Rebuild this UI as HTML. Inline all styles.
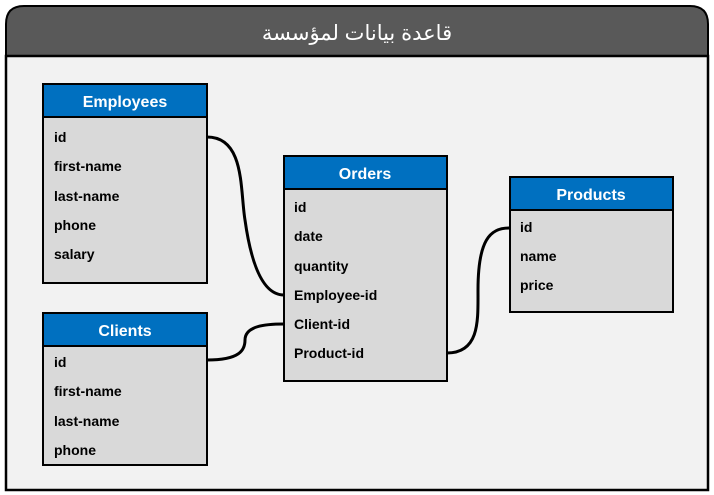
<!DOCTYPE html>
<html><head><meta charset="utf-8"><style>html,body{margin:0;padding:0;background:#fff}svg{display:block}</style></head>
<body>
<svg width="714" height="495" xmlns="http://www.w3.org/2000/svg" font-family="'Liberation Sans', sans-serif">
<path d="M6,56 L6,24 Q6,6 24,6 L690,6 Q708,6 708,24 L708,56 Z" fill="#595959" stroke="#000" stroke-width="2"/>
<rect x="6" y="56" width="702" height="434" fill="#f2f2f2" stroke="#000" stroke-width="2.5"/>
<text x="357" y="40" text-anchor="middle" fill="#fff" font-size="21" font-family="'Liberation Sans','DejaVu Sans',sans-serif">قاعدة بيانات لمؤسسة</text>
<g fill="none" stroke="#000" stroke-width="3">
<path d="M207,137 C245,137 240,190 245,220 C252,270 265,295 284,295"/>
<path d="M207,360 C240,360 245,350 245,340 C245,326 265,324 284,324"/>
<path d="M447,353 C480,353 478,320 478,290 C478,240 490,228 509,228"/>
</g>
<g stroke="#000" stroke-width="2">
<rect x="43" y="84" width="164" height="199" fill="#d9d9d9"/><rect x="43" y="84" width="164" height="33" fill="#0070c0"/>
<rect x="284" y="156" width="163" height="225" fill="#d9d9d9"/><rect x="284" y="156" width="163" height="33" fill="#0070c0"/>
<rect x="510" y="177" width="163" height="135" fill="#d9d9d9"/><rect x="510" y="177" width="163" height="33" fill="#0070c0"/>
<rect x="43" y="313" width="164" height="152" fill="#d9d9d9"/><rect x="43" y="313" width="164" height="33" fill="#0070c0"/>
</g>
<g fill="#fff" font-weight="bold" font-size="16" text-anchor="middle">
<text x="125" y="107">Employees</text><text x="365" y="179">Orders</text><text x="591" y="200">Products</text><text x="125" y="336">Clients</text>
</g>
<g fill="#000" font-weight="bold" font-size="14">
<text x="54" y="142">id</text><text x="54" y="171">first-name</text><text x="54" y="201">last-name</text><text x="54" y="230">phone</text><text x="54" y="259">salary</text>
<text x="294" y="212">id</text><text x="294" y="241">date</text><text x="294" y="271">quantity</text><text x="294" y="300">Employee-id</text><text x="294" y="329">Client-id</text><text x="294" y="358">Product-id</text>
<text x="520" y="232">id</text><text x="520" y="261">name</text><text x="520" y="290">price</text>
<text x="54" y="367">id</text><text x="54" y="396">first-name</text><text x="54" y="426">last-name</text><text x="54" y="455">phone</text>
</g>
</svg>
</body></html>
